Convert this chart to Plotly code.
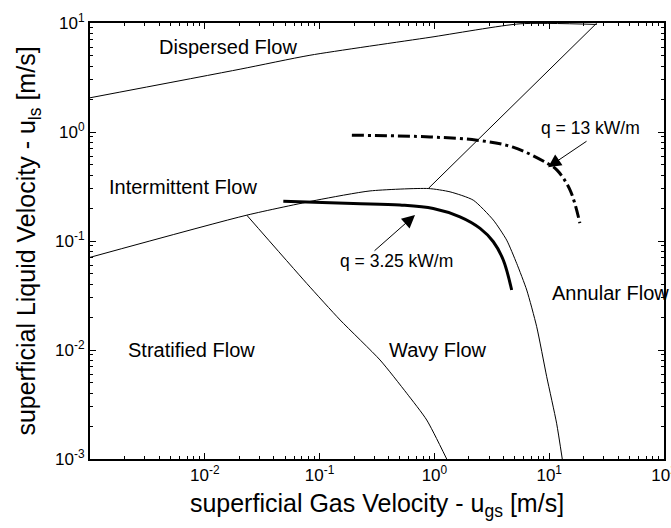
import math
import plotly.graph_objects as go

# ---- data ----
disp_x = [0.001, 0.0203, 0.0824, 0.916, 5.57, 26.0]
disp_y = [2.06, 3.77, 5.06, 7.39, 9.83, 9.7]

diag_x = [0.885, 26.0]
diag_y = [0.303, 10.0]

strat_x = [0.001, 0.0232, 0.0944, 0.275, 0.885, 1.368, 2.18, 3.26, 4.26, 5.21, 6.37, 7.78, 9.51, 11.6, 13.0]
strat_y = [0.0708, 0.1726, 0.237, 0.288, 0.303, 0.2825, 0.237, 0.1556, 0.1019, 0.0623, 0.0355, 0.01637, 0.00569, 0.00213, 0.001]

wavy_x = [0.0232, 0.0773, 0.151, 0.336, 0.574, 0.857, 1.28]
wavy_y = [0.1726, 0.0408, 0.01884, 0.0081, 0.00401, 0.00228, 0.001]

q325_x = [0.0483, 0.197, 0.501, 0.977, 1.67, 2.50, 3.26, 3.98, 4.71]
q325_y = [0.232, 0.221, 0.214, 0.199, 0.1667, 0.1306, 0.0984, 0.0669, 0.0355]

q13_x = [0.191, 0.916, 2.35, 4.84, 9.57, 11.7, 15.2, 18.5]
q13_y = [0.935, 0.901, 0.841, 0.726, 0.518, 0.447, 0.293, 0.146]

region_labels = ["Dispersed Flow", "Intermittent Flow", "Stratified Flow", "Wavy Flow", "Annular Flow"]
region_x = [0.0159, 0.00646, 0.00773, 1.074, 34.5]
region_y = [5.98, 0.312, 0.01, 0.01, 0.0333]

q_labels = ["q = 3.25 kW/m", "q = 13 kW/m"]
q_label_x = [0.472, 23.1]
q_label_y = [0.0653, 1.08]
arrow_head_x = [0.678, 9.77]
arrow_head_y = [0.173, 0.475]

x_tick_vals = [1e-3, 1e-2, 1e-1, 1e0, 1e1, 1e2]
x_tick_text = ["", "10<sup>-2</sup>", "10<sup>-1</sup>", "10<sup>0</sup>", "10<sup>1</sup>", "10<sup>2</sup>"]
y_tick_vals = [1e-3, 1e-2, 1e-1, 1e0, 1e1]
y_tick_text = ["10<sup>-3</sup>", "10<sup>-2</sup>", "10<sup>-1</sup>", "10<sup>0</sup>", "10<sup>1</sup>"]

minor_x = [m * 10.0 ** e for e in range(-3, 2) for m in range(2, 10)]
minor_y = [m * 10.0 ** e for e in range(-3, 1) for m in range(2, 10)]

FONT = "Arial, Liberation Sans, sans-serif"

fig = go.Figure()
thin = dict(color="black", width=1)
fig.add_trace(go.Scatter(x=disp_x, y=disp_y, mode="lines", line=dict(thin, shape="spline", smoothing=0.6),
                         showlegend=False, hoverinfo="skip"))
fig.add_trace(go.Scatter(x=diag_x, y=diag_y, mode="lines", line=thin, showlegend=False, hoverinfo="skip"))
fig.add_trace(go.Scatter(x=strat_x, y=strat_y, mode="lines", line=dict(thin, shape="spline", smoothing=0.6),
                         showlegend=False, hoverinfo="skip"))
fig.add_trace(go.Scatter(x=wavy_x, y=wavy_y, mode="lines", line=dict(thin, shape="spline", smoothing=0.6),
                         showlegend=False, hoverinfo="skip"))
fig.add_trace(go.Scatter(x=q325_x, y=q325_y, mode="lines", line=dict(color="black", width=3, shape="spline"),
                         showlegend=False))
fig.add_trace(go.Scatter(x=q13_x, y=q13_y, mode="lines",
                         line=dict(color="black", width=3, dash="12px,4px,3px,4px", shape="spline"),
                         showlegend=False))

anns = []
for t, x, y in zip(region_labels, region_x, region_y):
    anns.append(dict(x=math.log10(x), y=math.log10(y), xref="x", yref="y", text=t, showarrow=False,
                     font=dict(size=20, color="black", family=FONT)))
for t, x, y in zip(q_labels, q_label_x, q_label_y):
    anns.append(dict(x=math.log10(x), y=math.log10(y), xref="x", yref="y", text=t, showarrow=False,
                     font=dict(size=17.5, color="black", family=FONT)))
offsets = [(-42, 37), (40, -27)]
for (ax, ay), x, y in zip(offsets, arrow_head_x, arrow_head_y):
    anns.append(dict(x=math.log10(x), y=math.log10(y), xref="x", yref="y", text="", showarrow=True,
                     arrowhead=2, arrowsize=2.6, arrowwidth=1, arrowcolor="black", ax=ax, ay=ay))

axis_common = dict(type="log", showgrid=False, zeroline=False, showline=True, linecolor="black", linewidth=2,
                   mirror="allticks", ticks="inside", ticklen=6, tickcolor="black", tickwidth=1,
                   ticklabeloverflow="allow", automargin=False,
                   tickfont=dict(size=17, color="black", family=FONT))

fig.update_layout(
    width=671, height=528, autosize=False,
    margin=dict(l=90, r=7, t=23, b=69),
    plot_bgcolor="white", paper_bgcolor="white",
    annotations=anns,
    xaxis=dict(axis_common, range=[-3, 2], tickmode="array", tickvals=x_tick_vals, ticktext=x_tick_text,
               minor=dict(ticks="inside", ticklen=3, tickcolor="black", tickmode="array", tickvals=minor_x),
               title=dict(text="superficial Gas Velocity - u<sub>gs</sub> [m/s]", standoff=10,
                          font=dict(size=25, color="black", family=FONT))),
    yaxis=dict(axis_common, range=[-3, 1], tickmode="array", tickvals=y_tick_vals, ticktext=y_tick_text,
               minor=dict(ticks="inside", ticklen=3, tickcolor="black", tickmode="array", tickvals=minor_y),
               title=dict(text="superficial Liquid Velocity - u<sub>ls</sub> [m/s]", standoff=12,
                          font=dict(size=25, color="black", family=FONT))),
)

fig.write_html("out.html")
